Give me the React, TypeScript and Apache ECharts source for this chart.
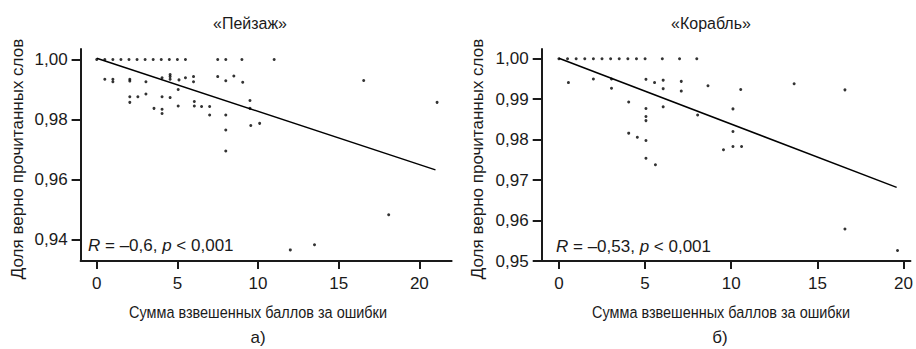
import React, { useEffect, useRef } from 'react';
import * as echarts from 'echarts';

const xTicks = [0, 5, 10, 15, 20];
const yTicksLandscape = [0.94, 0.96, 0.98, 1.0];
const yTicksShip = [0.95, 0.96, 0.97, 0.98, 0.99, 1.0];

const titles = ['«Пейзаж»', '«Корабль»'];
const yName = 'Доля верно прочитанных слов';
const xName = 'Сумма взвешенных баллов за ошибки';
const panelLabels = ['а)', 'б)'];
const statLandscape = '{i|R} = –0,6, {i|p} < 0,001';
const statShip = '{i|R} = –0,53, {i|p} < 0,001';

const landscapePoints: [number, number][] = [
  [0, 1.0], [0.5, 1.0], [1, 1.0], [1.5, 1.0], [2, 1.0], [2.5, 1.0], [3, 1.0], [3.5, 1.0],
  [4, 1.0], [4.5, 1.0], [5, 1.0], [5.5, 1.0], [7.5, 1.0], [8, 1.0], [9, 1.0], [11, 1.0],
  [0.5, 0.9934], [1.0, 0.9934], [1.0, 0.9926], [2.05, 0.9934], [2.05, 0.9928], [3.05, 0.9926],
  [4.05, 0.9939], [4.55, 0.995], [4.55, 0.9943], [4.55, 0.9934], [5.1, 0.9932], [5.5, 0.9939],
  [6.0, 0.9943], [6.0, 0.9926], [7.5, 0.9943], [8.0, 0.9929], [8.5, 0.9945], [9.05, 0.9924],
  [16.55, 0.993], [21.1, 0.9857],
  [2.05, 0.9876], [2.05, 0.9857], [2.55, 0.9876], [3.05, 0.9885], [3.55, 0.9837], [4.05, 0.9876],
  [4.05, 0.9834], [4.05, 0.982], [4.55, 0.9873], [5.05, 0.99], [5.05, 0.9845], [6.05, 0.986],
  [6.05, 0.9845], [6.5, 0.9843], [7.0, 0.9843], [7.0, 0.9815], [8.0, 0.9815], [8.0, 0.9765],
  [8.0, 0.9695], [9.5, 0.9863], [9.5, 0.9837], [9.55, 0.978], [10.1, 0.9787],
  [12.0, 0.9365], [13.5, 0.9382], [18.1, 0.9482],
];
const landscapeFit: [number, number][] = [[0, 1.0004], [21, 0.9632]];

const shipPoints: [number, number][] = [
  [0, 1.0], [0.5, 1.0], [1, 1.0], [1.5, 1.0], [2, 1.0], [2.5, 1.0], [3, 1.0], [3.5, 1.0],
  [4, 1.0], [4.5, 1.0], [5, 1.0], [6, 1.0], [7, 1.0], [8, 1.0],
  [0.55, 0.9941], [2.0, 0.995], [3.05, 0.995], [3.05, 0.9927], [4.05, 0.9893], [5.05, 0.9949],
  [5.55, 0.9941], [6.05, 0.9947], [6.05, 0.9926], [7.1, 0.9944], [7.1, 0.992], [6.05, 0.9881],
  [5.05, 0.9877], [5.05, 0.9857], [5.05, 0.9847], [4.05, 0.9816], [4.55, 0.9806], [5.05, 0.9798],
  [5.05, 0.9754], [5.6, 0.9738], [8.65, 0.9933], [10.55, 0.9924], [13.65, 0.9938], [16.6, 0.9923],
  [10.1, 0.9876], [8.05, 0.9861], [10.1, 0.982], [9.55, 0.9775], [10.1, 0.9783], [10.6, 0.9783],
  [16.6, 0.9579], [19.65, 0.9526],
];
const shipFit: [number, number][] = [[0, 1.0001], [19.6, 0.9682]];

const FONT = "'Liberation Sans', Arial, sans-serif";
const INK = '#1a1a1a';

function fmt(v: number) {
  return v.toFixed(2).replace('.', ',');
}

function xAxis(gridIndex: number, min: number, max: number) {
  return {
    type: 'value', gridIndex, min, max,
    axisLine: { show: true, onZero: false, lineStyle: { color: INK, width: 2 } },
    axisTick: { show: true, length: 8, customValues: xTicks, lineStyle: { color: INK, width: 2 } },
    axisLabel: { customValues: xTicks, margin: 14, fontSize: 17, color: INK, fontFamily: FONT },
    splitLine: { show: false },
  };
}

function yAxis(gridIndex: number, min: number, max: number, ticks: number[]) {
  return {
    type: 'value', gridIndex, min, max,
    axisLine: { show: true, onZero: false, lineStyle: { color: INK, width: 2 } },
    axisTick: { show: true, length: 9, customValues: ticks, lineStyle: { color: INK, width: 2 } },
    axisLabel: { customValues: ticks, margin: 13, fontSize: 17, color: INK, fontFamily: FONT, formatter: fmt },
    splitLine: { show: false },
  };
}

function txt(text: string, x: number, y: number, extra: any = {}) {
  return {
    type: 'text', x, y, ...extra,
    style: { text, fill: INK, font: `17px ${FONT}`, align: 'center', verticalAlign: 'middle', ...(extra.style || {}) },
  };
}

export default function App() {
  const ref = useRef<HTMLDivElement>(null);
  useEffect(() => {
    document.body.style.margin = '0';
    const chart = echarts.init(ref.current!, null, { renderer: 'svg' });
    chart.setOption({
      animation: false,
      backgroundColor: '#ffffff',
      grid: [
        { left: 80.6, top: 49, width: 371, height: 212 },
        { left: 541.7, top: 49, width: 370.2, height: 212 },
      ],
      xAxis: [xAxis(0, -1, 22), xAxis(1, -1, 20.4)],
      yAxis: [yAxis(0, 0.9328, 1.0035, yTicksLandscape), yAxis(1, 0.95, 1.0024, yTicksShip)],
      series: [
        { type: 'scatter', xAxisIndex: 0, yAxisIndex: 0, data: landscapePoints, symbolSize: 3, itemStyle: { color: '#000' } },
        { type: 'line', xAxisIndex: 0, yAxisIndex: 0, data: landscapeFit, showSymbol: false, lineStyle: { color: '#000', width: 1.5 } },
        { type: 'scatter', xAxisIndex: 1, yAxisIndex: 1, data: shipPoints, symbolSize: 3, itemStyle: { color: '#000' } },
        { type: 'line', xAxisIndex: 1, yAxisIndex: 1, data: shipFit, showSymbol: false, lineStyle: { color: '#000', width: 1.5 } },
      ],
      graphic: [
        txt(titles[0], 250, 23, { scaleX: 0.94 }),
        txt(titles[1], 711, 23, { scaleX: 0.94 }),
        txt(yName, 17, 159, { rotation: Math.PI / 2 }),
        txt(yName, 477, 159, { rotation: Math.PI / 2 }),
        txt(xName, 258, 312, { scaleX: 0.85 }),
        txt(xName, 721, 312, { scaleX: 0.85 }),
        txt(panelLabels[0], 258, 337),
        txt(panelLabels[1], 720, 337),
        {
          type: 'text', x: 88, y: 245,
          style: { text: statLandscape, fill: INK, font: `17px ${FONT}`, align: 'left', verticalAlign: 'middle', rich: { i: { fontStyle: 'italic', fontSize: 17, fontFamily: FONT } } },
        },
        {
          type: 'text', x: 556, y: 246,
          style: { text: statShip, fill: INK, font: `17px ${FONT}`, align: 'left', verticalAlign: 'middle', rich: { i: { fontStyle: 'italic', fontSize: 17, fontFamily: FONT } } },
        },
      ],
    });
    return () => chart.dispose();
  }, []);
  return <div ref={ref} style={{ width: 916, height: 349 }} />;
}
